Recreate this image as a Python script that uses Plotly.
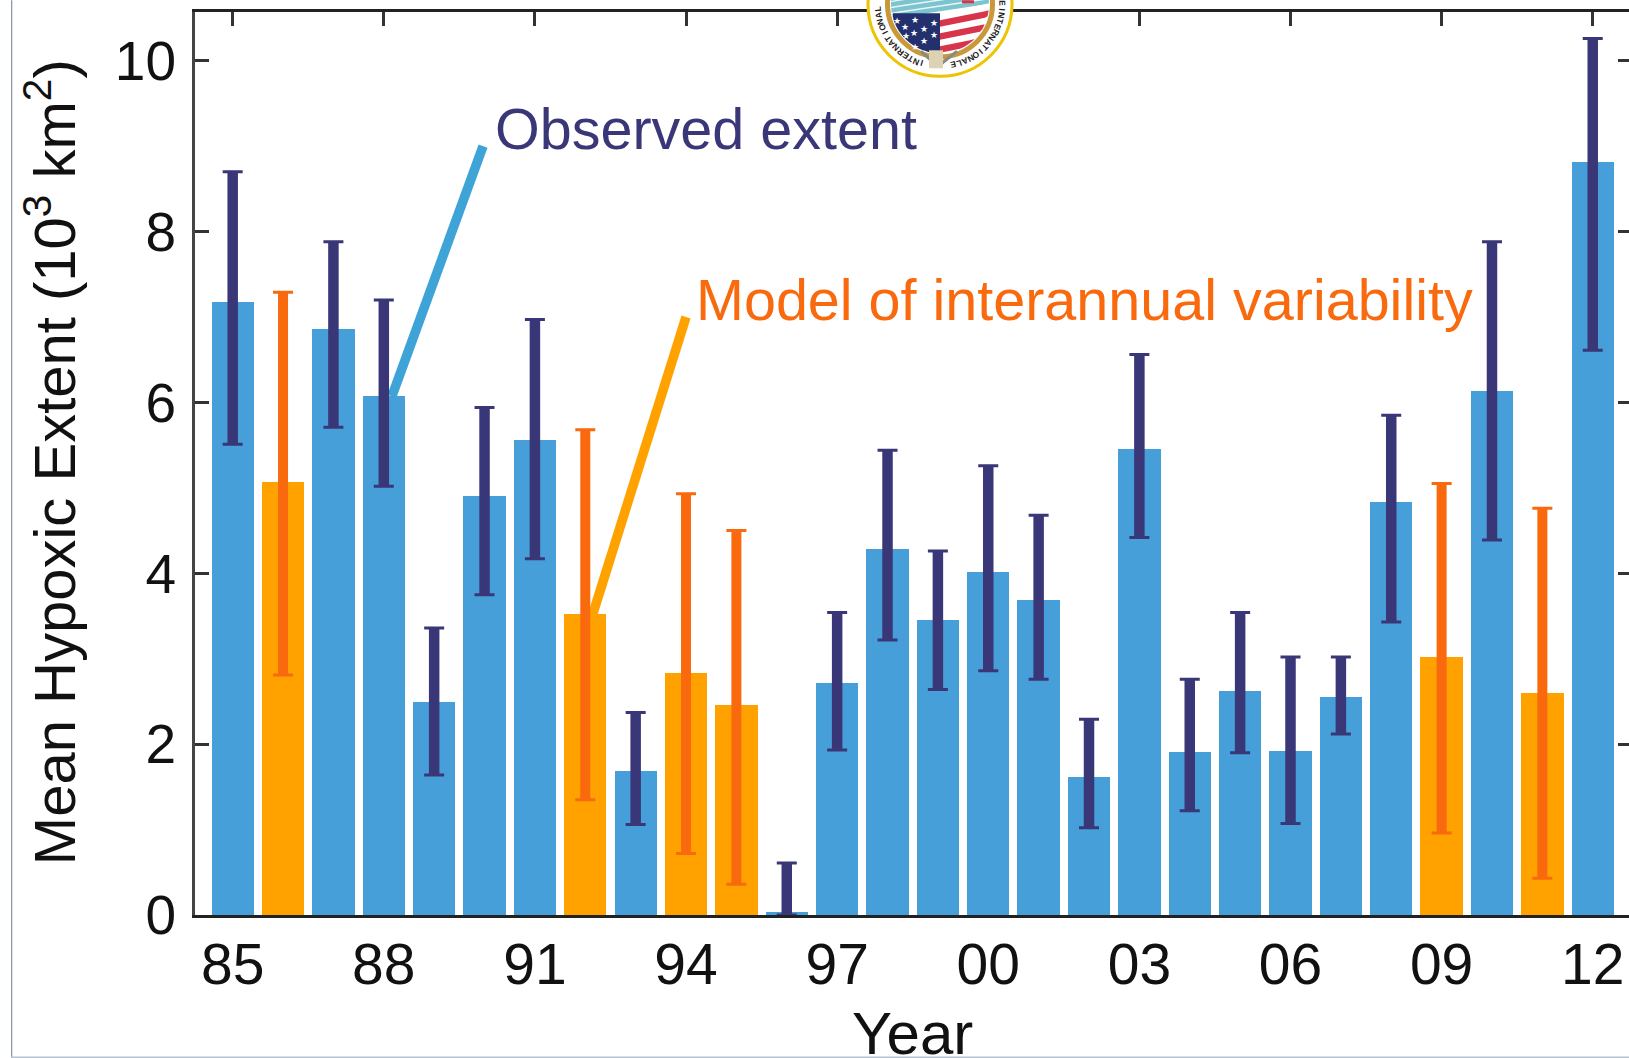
import math
import plotly.graph_objects as go

W, H = 1629, 1058
L, R, T, B = 195, 0, 11.7, 143

years = ["85","86","87","88","89","90","91","92","93","94","95","96","97","98","99","00","01","02","03","04","05","06","07","08","09","10","11","12"]
means = [7.18,5.07,6.86,6.07,2.49,4.91,5.56,3.52,1.69,2.83,2.46,0.04,2.71,4.29,3.45,4.01,3.69,1.61,5.46,1.91,2.62,1.92,2.55,4.84,3.02,6.13,2.60,8.81]
upper = [8.70,7.29,7.88,7.20,3.36,5.94,6.97,5.68,2.37,4.93,4.50,0.61,3.54,5.44,4.26,5.26,4.68,2.29,6.56,2.76,3.54,3.02,3.02,5.85,5.05,7.88,4.76,10.26]
lower = [5.51,2.81,5.71,5.02,1.64,3.75,4.17,1.35,1.06,0.72,0.36,0.00,1.93,3.22,2.64,2.86,2.76,1.02,4.42,1.22,1.90,1.07,2.12,3.43,0.96,4.39,0.43,6.61]
modeled = ["86","92","94","95","09","11"]
tick_years = ["85","88","91","94","97","00","03","06","09","12"]
y_ticks = [0,2,4,6,8,10]

BLUE, ORANGE, NAVY, DEEP_ORANGE = "#469fd8", "#ffa200", "#3a3778", "#f9690e"
FONT = "Liberation Sans"

idx = list(range(len(years)))
bar_colors = [ORANGE if y in modeled else BLUE for y in years]

fig = go.Figure()
fig.add_trace(go.Bar(x=idx, y=means, width=0.84, marker=dict(color=bar_colors, line_width=0), showlegend=False))

# Pointer lines sit under the error bars
fig.add_trace(go.Scatter(x=[3.16,4.97], y=[6.07,9.0], mode="lines", line=dict(color="#3ea3d6", width=9.5), showlegend=False))
fig.add_trace(go.Scatter(x=[7.1,9.0], y=[3.43,7.0], mode="lines", line=dict(color=ORANGE, width=9.5), showlegend=False))

# Error bars: thick stem without cap, then thin stem with cap
for color, group, stem in ((NAVY, False, 10.5), (DEEP_ORANGE, True, 10)):
    sel = [i for i in idx if (years[i] in modeled) == group]
    ys = [means[i] for i in sel]
    plus = [upper[i]-means[i] for i in sel]
    minus = [means[i]-lower[i] for i in sel]
    for thick, cap in ((stem, 0), (3, 10)):
        fig.add_trace(go.Scatter(
            x=sel, y=ys, mode="markers", marker=dict(size=1, opacity=0), showlegend=False,
            error_y=dict(type="data", symmetric=False, array=plus, arrayminus=minus,
                         color=color, thickness=thick, width=cap)))

axis_font = dict(family=FONT, size=57, color="#111111")
fig.update_layout(
    width=W, height=H, margin=dict(l=L, r=R, t=T, b=B, pad=0, autoexpand=False),
    paper_bgcolor="white", plot_bgcolor="white", font=dict(family=FONT), bargap=0,
    xaxis=dict(range=[-0.748,27.72], tickmode="array", tickvals=[years.index(t) for t in tick_years], ticktext=tick_years,
               ticks="inside", ticklen=14, tickwidth=3, tickcolor="#333333", showgrid=False, zeroline=False,
               showline=True, linecolor="#222222", linewidth=3, mirror="ticks", tickfont=axis_font, layer="below traces",
               ticklabelstandoff=-2),
    yaxis=dict(range=[0,10.57], tickmode="array", tickvals=y_ticks, ticks="inside", ticklen=14, tickwidth=3,
               tickcolor="#333333", showgrid=False, zeroline=False, showline=True, linecolor="#444444", linewidth=3,
               tickfont=dict(family=FONT, size=55, color="#111111"), ticklabelstandoff=5),
    yaxis2=dict(range=[0,10.57], overlaying="y", side="right", tickmode="array", tickvals=y_ticks, showticklabels=False,
                ticks="inside", ticklen=11, tickwidth=3, tickcolor="#333333", showgrid=False, zeroline=False, showline=False),
)
fig.add_trace(go.Scatter(x=[0], y=[0], yaxis="y2", mode="markers", marker=dict(size=1, opacity=0), showlegend=False))

fig.add_annotation(xref="x", yref="y", x=5.17, y=9.2, text="Observed extent", showarrow=False, xanchor="left", yanchor="middle",
                   font=dict(family=FONT, size=57.5, color=NAVY))
fig.add_annotation(xref="x", yref="y", x=9.16, y=7.2, text="Model of interannual variability", showarrow=False, xanchor="left", yanchor="middle",
                   font=dict(family=FONT, size=57.5, color=DEEP_ORANGE))

# --- page frame and seal (decoration, placed in page pixels) ---
def px(x): return (x - L) / (W - L - R)
def py(y): return 1 - (y - T) / (H - T - B)

# Axis titles placed directly: axis title standoff is ignored without automargin
fig.add_annotation(xref="paper", yref="paper", x=px(912), y=py(1034), text="Year", showarrow=False, xanchor="center", yanchor="middle",
                   font=dict(family=FONT, size=60, color="#111111"))
fig.add_annotation(xref="paper", yref="paper", x=px(50), y=py(462), text="Mean Hypoxic Extent (10<sup>3</sup> km<sup>2</sup>)", showarrow=False,
                   textangle=-90, xanchor="center", yanchor="middle", font=dict(family=FONT, size=58, color="#111111"))

shapes = []
def rect(x0, y0, x1, y1, fill):
    shapes.append(dict(type="rect", xref="paper", yref="paper", x0=px(x0), x1=px(x1), y0=py(y0), y1=py(y1),
                       fillcolor=fill, line_width=0, layer="above"))
CX, CY = 940, 4
def circ(r, fill, line=None, lw=0):
    shapes.append(dict(type="circle", xref="paper", yref="paper", x0=px(CX-r), x1=px(CX+r), y0=py(CY-r), y1=py(CY+r),
                       fillcolor=fill, line=dict(color=line or fill, width=lw), layer="above"))
def poly(pts, fill, rad=49):
    out = []
    n = len(pts)
    for i in range(n):
        a, b = pts[i], pts[(i+1) % n]
        for k in range(12):
            x = a[0] + (b[0]-a[0])*k/12
            y = a[1] + (b[1]-a[1])*k/12
            d = math.hypot(x-CX, y-CY)
            if d > rad:
                x, y = CX+(x-CX)*rad/d, CY+(y-CY)*rad/d
            out.append((px(x), py(y)))
    path = "M " + " L ".join(f"{x:.5f},{y:.5f}" for x, y in out) + " Z"
    shapes.append(dict(type="path", xref="paper", yref="paper", path=path, fillcolor=fill, line_width=0, layer="above"))
def band(y0, y1, x0, x1, slope, fill):
    poly([(x0, y0+slope*(x0-940)), (x1, y0+slope*(x1-940)), (x1, y1+slope*(x1-940)), (x0, y1+slope*(x0-940))], fill)

rect(11, 0, 12.3, H, "#8d9aa6")
rect(11, 1056.6, W, H, "#b4c2d2")
circ(72, "white", "#ecc400", 3)
circ(52.5, "white", "#c9983a", 5)
band(-14, 11, 880, 1000, -0.15, "#7cc4d0")
for y0 in (-7, -1, 5):
    band(y0, y0+1.5, 880, 1000, -0.15, "#eaf6f6")
band(13, 55, 940, 1000, -0.2, "white")
for y0 in (20, 33, 46):
    band(y0, y0+6.5, 940, 1000, -0.2, "#d8354a")
poly([(893,13),(940,13),(940,52),(893,52)], "#22306e")
poly([(962,0),(974,0),(974,3),(962,3)], "#d8354a")
poly([(920,52),(934,65),(937,63),(922,50)], "#8a8a80", 70)
poly([(958,52),(942,65),(939,63),(956,50)], "#8a8a80", 70)
poly([(929,50),(943,50),(943,68),(929,68)], "#ddd2b4", 70)
fig.update_layout(shapes=shapes)

for (sx, sy) in [(897,21),(915,20),(934,23),(905,27),(924,29),(914,33),(934,35),(924,41),(906,36),(915,47)]:
    fig.add_annotation(xref="paper", yref="paper", x=px(sx), y=py(sy), text="★", showarrow=False,
                       font=dict(family="DejaVu Sans", size=9, color="white"), xanchor="center", yanchor="middle")
def ring(text, start_deg, step):
    for k, ch in enumerate(text):
        a = start_deg + k*step
        r = math.radians(a)
        fig.add_annotation(xref="paper", yref="paper", x=px(CX + 62*math.cos(r)), y=py(CY + 62*math.sin(r)), text=f"<b>{ch}</b>",
                           showarrow=False, textangle=a+90, xanchor="center", yanchor="middle",
                           font=dict(family=FONT, size=8.5, color="#222222"))
ring("INTERNATIONAL", 107, 5.7)
ring("EINTERNATIONALE", -1, 5.6)

# The page's default body margin would shift the whole figure by 8 px.
fig.write_html("out.html", config=dict(displayModeBar=False),
               post_script="document.documentElement.style.overflow='hidden';document.body.style.margin='0';")
